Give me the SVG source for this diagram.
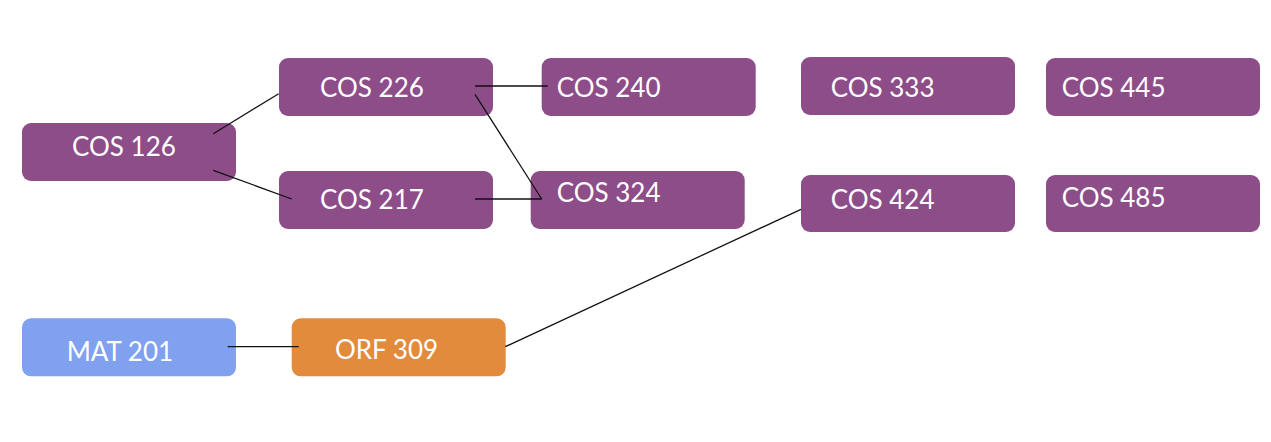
<svg xmlns="http://www.w3.org/2000/svg" width="1271" height="442" viewBox="0 0 1271 442">
<style>
.box{stroke:none}
.p{fill:#8D4D89}
.b{fill:#7FA1F0}
.o{fill:#E38B3C}
.t{font-family:"Lato","Liberation Sans",sans-serif;font-size:26px;fill:#FFFFFF}
.c{stroke:#111;stroke-width:1.3;fill:none}
</style>
<rect width="1271" height="442" fill="#FFFFFF"/>
<g id="cos126"><rect class="box p" x="22" y="123" width="214" height="58" rx="9"/><text class="t" x="72" y="156">COS 126</text></g>
<g id="cos226"><rect class="box p" x="279" y="58" width="214" height="58" rx="9"/><text class="t" x="320" y="96.7">COS 226</text></g>
<g id="cos217"><rect class="box p" x="279" y="171" width="214" height="58" rx="9"/><text class="t" x="320" y="209.3">COS 217</text></g>
<g id="cos240"><rect class="box p" x="541.7" y="58" width="214" height="58" rx="9"/><text class="t" x="556.7" y="96.7">COS 240</text></g>
<g id="cos324"><rect class="box p" x="530.7" y="171" width="214" height="58" rx="9"/><text class="t" x="556.7" y="202.3">COS 324</text></g>
<g id="cos333"><rect class="box p" x="801" y="57" width="214" height="58" rx="9"/><text class="t" x="830.7" y="96.7">COS 333</text></g>
<g id="cos445"><rect class="box p" x="1046" y="58" width="214" height="58" rx="9"/><text class="t" x="1061.7" y="96.7">COS 445</text></g>
<g id="cos424"><rect class="box p" x="801" y="175" width="214" height="57" rx="9"/><text class="t" x="830.7" y="209.3">COS 424</text></g>
<g id="cos485"><rect class="box p" x="1046" y="175" width="214" height="57" rx="9"/><text class="t" x="1061.7" y="206.7">COS 485</text></g>
<g id="mat201"><rect class="box b" x="22" y="318.3" width="214" height="58" rx="9"/><text class="t" x="66.7" y="361">MAT 201</text></g>
<g id="orf309"><rect class="box o" x="291.7" y="318.3" width="214" height="58" rx="9"/><text class="t" x="335" y="359">ORF 309</text></g>
<g id="connectors">
<line class="c" x1="213.3" y1="133.7" x2="278.7" y2="93.7"/>
<line class="c" x1="213.3" y1="170.3" x2="291.7" y2="199"/>
<line class="c" x1="475" y1="86" x2="547.7" y2="86"/>
<line class="c" x1="475" y1="94.3" x2="541.7" y2="199"/>
<line class="c" x1="475" y1="199" x2="541.7" y2="199"/>
<line class="c" x1="505.3" y1="346.7" x2="801" y2="209.3"/>
<line class="c" x1="227.7" y1="346.7" x2="298.7" y2="346.7"/>
</g>
</svg>
